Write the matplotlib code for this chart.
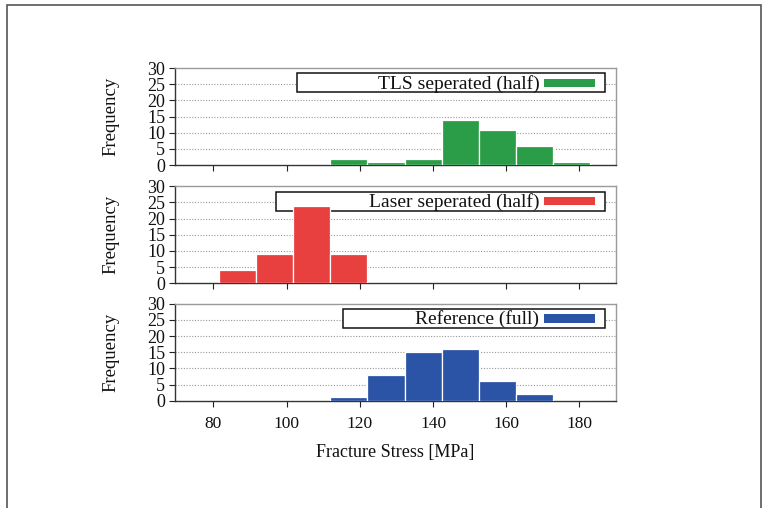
import numpy as np
import matplotlib
matplotlib.use("Agg")
import matplotlib.pyplot as plt
from matplotlib.patches import Rectangle

plt.rcParams['font.family'] = ['Liberation Serif', 'DejaVu Serif']

# histogram bins (MPa) and counts per bin
bin_edges = [81.4, 91.6, 101.7, 111.9, 122.0, 132.2, 142.4, 152.5, 162.7, 172.8, 183.0]
tls_counts = [0, 0, 0, 2, 1, 2, 14, 11, 6, 1]
laser_counts = [4, 9, 24, 9, 0, 0, 0, 0, 0, 0]
ref_counts = [0, 0, 0, 1, 8, 15, 16, 6, 2, 0]

series = [
    ("TLS seperated (half)", tls_counts, "#2b9d48", 0.277),
    ("Laser seperated (half)", laser_counts, "#e8403f", 0.228),
    ("Reference (full)", ref_counts, "#2b54a6", 0.382),
]

x_ticks = [80, 100, 120, 140, 160, 180]
y_ticks = [0, 5, 10, 15, 20, 25, 30]

fig = plt.figure(figsize=(7.63, 5.08), dpi=100)

# page frame
fig.patches.append(Rectangle((0.0092, -0.05), 0.9882, 1.04, transform=fig.transFigure,
                             fill=False, edgecolor="#555555", linewidth=1.2))

edges = np.array(bin_edges)
lefts = edges[:-1]
widths = np.diff(edges)

bottoms = [0.675, 0.4423, 0.2112]
for (label, counts, color, box_left), bottom in zip(series, bottoms):
    ax = fig.add_axes([0.2294, bottom, 0.578, 0.191])
    ax.bar(lefts, counts, width=widths, align='edge', color=color,
           edgecolor='white', linewidth=0.9, zorder=4)
    ax.set_xlim(69.5, 190)
    ax.set_ylim(0, 30)
    ax.set_yticks(y_ticks)
    ax.set_xticks(x_ticks)
    for y in y_ticks[1:-1]:
        ax.axhline(y, color="#999999", linestyle=(0, (1, 1.5)), linewidth=0.8, zorder=1)
    ax.tick_params(axis='y', direction='out', length=4, width=0.8, pad=3,
                   labelsize=13, colors="#222222")
    ax.tick_params(axis='x', direction='out', length=4, width=0.8, pad=7,
                   labelsize=12.5, colors="#222222")
    ax.tick_params(axis='y', labelcolor="#111111")
    ax.tick_params(axis='x', labelcolor="#111111")
    for side in ['left', 'bottom']:
        ax.spines[side].set_color("#333333")
        ax.spines[side].set_linewidth(1.0)
    for side in ['top', 'right']:
        ax.spines[side].set_color("#9a9a9a")
        ax.spines[side].set_linewidth(1.0)
    ax.set_ylabel("Frequency", fontsize=13.5, labelpad=20, color="#111111")

    # key box: title right-aligned, colour swatch after it
    ax.add_patch(Rectangle((box_left, 0.75), 0.975 - box_left, 0.195,
                           transform=ax.transAxes, facecolor='white',
                           edgecolor='#111111', linewidth=1.1, zorder=3))
    ax.add_patch(Rectangle((0.837, 0.805), 0.115, 0.085, transform=ax.transAxes,
                           facecolor=color, edgecolor='none', zorder=3.5))
    ax.text(0.826, 0.84, label, transform=ax.transAxes, ha='right', va='center',
            fontsize=14, color="#111111", zorder=3.5)

    if bottom != bottoms[-1]:
        ax.tick_params(axis='x', labelbottom=False)
    else:
        ax.set_xlabel("Fracture Stress [MPa]", fontsize=13, labelpad=9, color="#111111")

fig.savefig("out.png", dpi=100)
